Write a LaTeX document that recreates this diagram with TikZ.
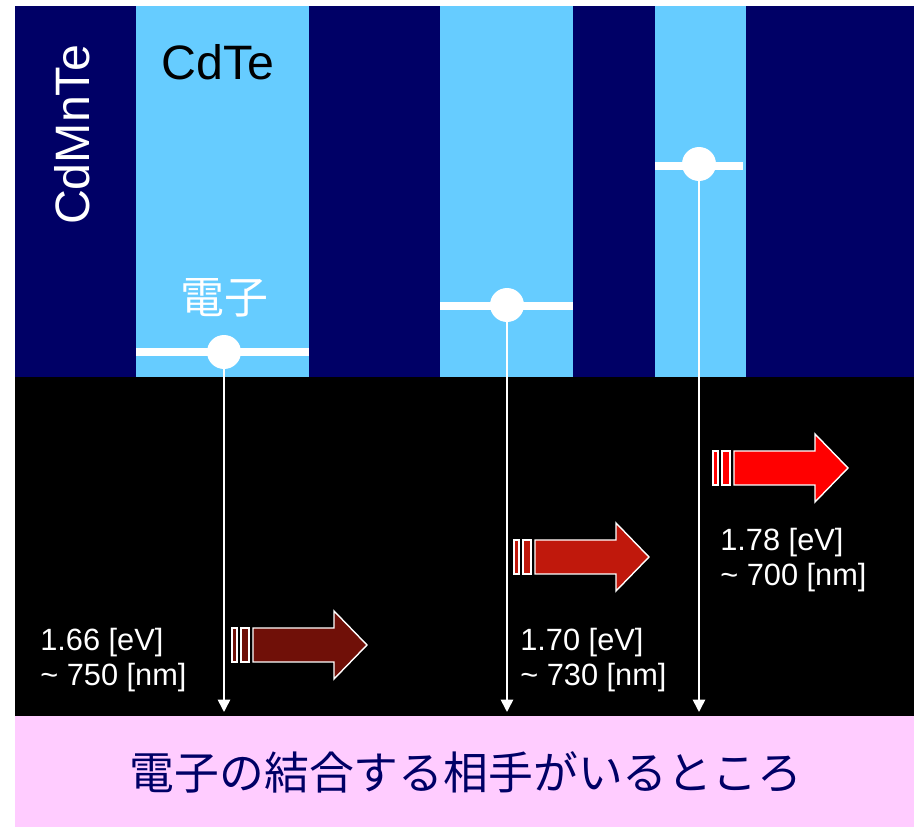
\documentclass[tikz,border=0pt]{standalone}
\usepackage{fontspec}
\setmainfont{Liberation Sans}
\newfontfamily\jpfont{Noto Sans CJK JP}
\usepackage{tikz}
\usetikzlibrary{arrows.meta}

\definecolor{barrier}{HTML}{000066}
\definecolor{well}{HTML}{66CCFF}
\definecolor{pinkbg}{HTML}{FFCCFF}
\definecolor{photA}{HTML}{701008}
\definecolor{photB}{HTML}{C0180C}
\definecolor{photC}{HTML}{FF0000}

\begin{document}
\begin{tikzpicture}[
    x=0.02cm, y=-0.02cm,
    level/.style={white, line width=4pt},
    electron/.style={circle, fill=white, inner sep=0pt, minimum size=0.68cm},
    decay/.style={white, line width=0.9pt, -{Triangle[width=7pt,length=7pt]}},
    energy/.style={white, anchor=west, align=left, inner sep=0pt, font=\fontsize{17.5}{20}\selectfont},
    photon/.style={draw=white, line width=0.8pt}
]
\useasboundingbox (0,0) rectangle (914,827);

% layers
\fill[barrier] (15,6) rectangle (914,377);
\fill[well] (136,6) rectangle (309,377);
\fill[well] (440,6) rectangle (573,377);
\fill[well] (655,6) rectangle (746,377);
\fill[black] (15,377) rectangle (914,716);
\fill[pinkbg] (15,716) rectangle (914,827);

\node[white, rotate=90, font=\fontsize{27.5}{30}\selectfont] (cdmnte) at (72,135) {CdMnTe};
\node[font=\fontsize{27.5}{30}\selectfont] (cdte) at (218,62) {CdTe};
\node[white, font=\jpfont\fontsize{25}{30}\selectfont] (denshi) at (224,298) {電子};

% electron levels
\draw[level] (136,352) -- (309,352);
\draw[level] (440,306) -- (573,306);
\draw[level] (655,166) -- (743,166);
\node[electron] (e1) at (224,352) {};
\node[electron] (e2) at (507,305) {};
\node[electron] (e3) at (699,164) {};

\coordinate (h1) at (224,712);
\coordinate (h2) at (507,712);
\coordinate (h3) at (699,712);
\draw[decay] (e1) -- (h1);
\draw[decay] (e2) -- (h2);
\draw[decay] (e3) -- (h3);

% emitted light
\foreach \px/\py/\col in {232/645/photA, 514/557/photB, 713/468/photC} {
    \filldraw[photon, fill=\col] (\px,\py-17) rectangle (\px+5,\py+17);
    \filldraw[photon, fill=\col] (\px+9,\py-17) rectangle (\px+17,\py+17);
    \filldraw[photon, fill=\col] (\px+21,\py-17) -- (\px+102,\py-17) -- (\px+102,\py-34)
        -- (\px+135,\py) -- (\px+102,\py+34) -- (\px+102,\py+17) -- (\px+21,\py+17) -- cycle;
}

\node[energy] (l1) at (40,660) {1.66 [eV]\\\textasciitilde{} 750 [nm]};
\node[energy] (l2) at (520,660) {1.70 [eV]\\\textasciitilde{} 730 [nm]};
\node[energy] (l3) at (720,560) {1.78 [eV]\\\textasciitilde{} 700 [nm]};

\node[text=barrier, font=\jpfont\fontsize{25.5}{30}\selectfont] (partner) at (466,772) {電子の結合する相手がいるところ};

\end{tikzpicture}
\end{document}
